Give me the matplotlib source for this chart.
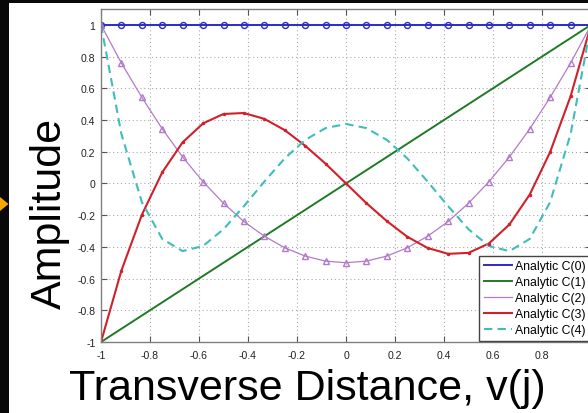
import matplotlib
matplotlib.use('Agg')
import matplotlib.pyplot as plt
from matplotlib.patches import Rectangle, Polygon

plt.rcParams['font.family'] = ['Liberation Sans', 'DejaVu Sans']
plt.rcParams['axes.unicode_minus'] = False

# Sample positions v(j)
v = [-1.0, -0.917, -0.833, -0.75, -0.667, -0.583, -0.5, -0.417, -0.333, -0.25, -0.167, -0.083, 0.0,
     0.083, 0.167, 0.25, 0.333, 0.417, 0.5, 0.583, 0.667, 0.75, 0.833, 0.917, 1.0]

# Amplitudes of each analytic mode
c0 = [1.0] * 25
c1 = [-1.0, -0.917, -0.833, -0.75, -0.667, -0.583, -0.5, -0.417, -0.333, -0.25, -0.167, -0.083, 0.0,
      0.083, 0.167, 0.25, 0.333, 0.417, 0.5, 0.583, 0.667, 0.75, 0.833, 0.917, 1.0]
c2 = [1.0, 0.76, 0.542, 0.344, 0.167, 0.01, -0.125, -0.24, -0.333, -0.406, -0.458, -0.49, -0.5,
      -0.49, -0.458, -0.406, -0.333, -0.24, -0.125, 0.01, 0.167, 0.344, 0.542, 0.76, 1.0]
c3 = [-1.0, -0.551, -0.197, 0.07, 0.259, 0.379, 0.438, 0.444, 0.407, 0.336, 0.238, 0.124, 0.0,
      -0.124, -0.238, -0.336, -0.407, -0.444, -0.438, -0.379, -0.259, -0.07, 0.197, 0.551, 1.0]
c4 = [1.0, 0.313, -0.119, -0.35, -0.427, -0.394, -0.289, -0.144, 0.012, 0.158, 0.274, 0.349, 0.375,
      0.349, 0.274, 0.158, 0.012, -0.144, -0.289, -0.394, -0.427, -0.35, -0.119, 0.313, 1.0]

labels = ['Analytic C(0)', 'Analytic C(1)', 'Analytic C(2)', 'Analytic C(3)', 'Analytic C(4)']
xticks = [-1, -0.8, -0.6, -0.4, -0.2, 0, 0.2, 0.4, 0.6, 0.8, 1]
yticks = [-1, -0.8, -0.6, -0.4, -0.2, 0, 0.2, 0.4, 0.6, 0.8, 1]
# the label at v = 1 falls past the right edge, so it is left blank
xticklabels = ['-1', '-0.8', '-0.6', '-0.4', '-0.2', '0', '0.2', '0.4', '0.6', '0.8', '']
yticklabels = ['-1', '-0.8', '-0.6', '-0.4', '-0.2', '0', '0.2', '0.4', '0.6', '0.8', '1']

blue = '#2b2bc4'
green = '#1f7a26'
purple = '#b27ac8'
red = '#d0202a'
cyan = '#3fbdb8'

fig = plt.figure(figsize=(5.88, 4.14), dpi=100, facecolor='white')
ax = fig.add_axes([101 / 588, 71 / 414, 490 / 588, 333 / 414])

ax.plot(v, c0, color=blue, lw=1.4, label=labels[0])
ax.plot(v, c1, color=green, lw=1.4, label=labels[1])
ax.plot(v, c2, color=purple, lw=0.9, label=labels[2])
ax.plot(v, c3, color=red, lw=1.5, label=labels[3])
ax.plot(v, c4, color=cyan, lw=1.5, dashes=(4, 2.5), label=labels[4])

# markers drawn separately so the legend shows plain lines
ax.plot(v, c0, ls='none', marker='o', ms=4.3, mfc='none', mec=blue, mew=1.0)
ax.plot(v, c2, ls='none', marker='^', ms=4.8, mfc='none', mec=purple, mew=1.0)
ax.plot(v, c3, ls='none', marker='.', ms=3, color=red)

ax.set_xlim(-1, 1)
ax.set_ylim(-1, 1.1)
ax.set_xticks(xticks)
ax.set_yticks(yticks)
ax.set_xticklabels(xticklabels)
ax.set_yticklabels(yticklabels)
ax.tick_params(direction='in', length=4, width=0.8, color='#555555', labelsize=7.6,
               labelcolor='#222222', top=True, right=True, pad=4)
ax.tick_params(axis='x', pad=6)
ax.grid(True, color='#aaaaaa', lw=0.8, ls=(0, (1, 2.5)))
for s in ax.spines.values():
    s.set_color('#808080')
    s.set_linewidth(1.0)

leg = ax.legend(loc='lower right', bbox_to_anchor=(1.0, 0.0), fontsize=8.8, frameon=True,
                fancybox=False, framealpha=1, edgecolor='#444444', borderpad=0.35,
                labelspacing=0.33, handlelength=2.3, handletextpad=0.25, borderaxespad=0.1)
leg.get_frame().set_linewidth(1.0)

fig.text(50 / 588, 1 - 213 / 414, 'Amplitude', rotation=90, ha='center', va='center',
         fontsize=31, color='black')
fig.text(307 / 588, 14 / 414, 'Transverse Distance, v(j)', ha='center', va='baseline',
         fontsize=31, color='black')

# dark slide border and arrow at the left edge
fig.patches.append(Rectangle((0, 0), 8.5 / 588, 1, transform=fig.transFigure,
                             facecolor='#080808', edgecolor='none', zorder=5))
fig.patches.append(Rectangle((0, 1 - 4 / 414), 1, 4 / 414, transform=fig.transFigure,
                             facecolor='#080808', edgecolor='none', zorder=5))
fig.patches.append(Polygon([(0, 1 - 198 / 414), (8.5 / 588, 1 - 205 / 414), (0, 1 - 212 / 414)],
                           closed=True, transform=fig.transFigure, facecolor='#f5a800',
                           edgecolor='none', zorder=6))

fig.savefig('out.png', dpi=100, facecolor='white')
